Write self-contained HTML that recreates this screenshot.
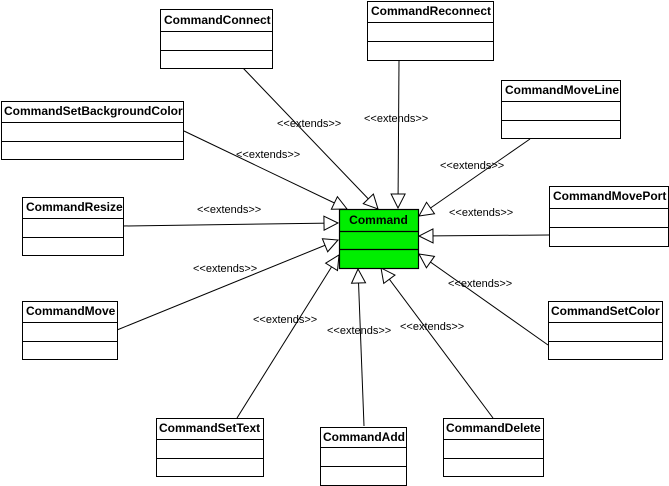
<!DOCTYPE html>
<html><head><meta charset="utf-8"><style>
body{margin:0;background:#fff;}
svg{display:block;}
text{font-family:"Liberation Sans",Arial,sans-serif;}
.t{font-size:12px;font-weight:bold;fill:#000;}
.e{font-size:11px;fill:#000;}
</style></head><body>
<svg width="669" height="486" viewBox="0 0 669 486" xmlns="http://www.w3.org/2000/svg">
<defs>
<marker id="a" viewBox="0 0 16 16" refX="15" refY="8" markerWidth="16" markerHeight="16" markerUnits="userSpaceOnUse" orient="auto">
<path d="M1,1 L15,8 L1,15 Z" fill="#fff" stroke="#000" stroke-width="1"/>
</marker>
</defs>
<g stroke="#000" stroke-width="1" fill="none" marker-end="url(#a)">
<line x1="243" y1="68" x2="378" y2="209"/>
<line x1="399" y1="60" x2="398" y2="208"/>
<line x1="184" y1="131" x2="347" y2="209"/>
<line x1="530" y1="139" x2="419" y2="216"/>
<line x1="123" y1="226" x2="338" y2="223"/>
<line x1="549" y1="235" x2="419" y2="236"/>
<line x1="548" y1="345" x2="419" y2="254"/>
<line x1="117" y1="330" x2="338" y2="240"/>
<line x1="237" y1="418" x2="339" y2="255"/>
<line x1="364" y1="426" x2="358" y2="269"/>
<line x1="493" y1="418" x2="381" y2="268"/>
</g>
<g stroke="#000" stroke-width="1.2">
<rect x="339.5" y="209.5" width="79" height="59" fill="#00ee00"/>
<line x1="339" y1="231.5" x2="418" y2="231.5"/><line x1="339" y1="249.5" x2="418" y2="249.5"/>
</g>
<text class="t" x="378.5" y="224" text-anchor="middle">Command</text>
<g stroke="#000" stroke-width="1" fill="#fff">
<rect x="160.5" y="9.5" width="112" height="59"/><line x1="160" y1="31.5" x2="272" y2="31.5"/><line x1="160" y1="50.5" x2="272" y2="50.5"/>
<rect x="367.5" y="1.5" width="126" height="59"/><line x1="367" y1="22.5" x2="493" y2="22.5"/><line x1="367" y1="41.5" x2="493" y2="41.5"/>
<rect x="1.5" y="101.5" width="182" height="58"/><line x1="1" y1="122.5" x2="183" y2="122.5"/><line x1="1" y1="141.5" x2="183" y2="141.5"/>
<rect x="501.5" y="80.5" width="119" height="58"/><line x1="501" y1="101.5" x2="620" y2="101.5"/><line x1="501" y1="120.5" x2="620" y2="120.5"/>
<rect x="22.5" y="197.5" width="101" height="58"/><line x1="22" y1="218.5" x2="123" y2="218.5"/><line x1="22" y1="237.5" x2="123" y2="237.5"/>
<rect x="549.5" y="186.5" width="119" height="60"/><line x1="549" y1="208.5" x2="668" y2="208.5"/><line x1="549" y1="227.5" x2="668" y2="227.5"/>
<rect x="22.5" y="301.5" width="95" height="58"/><line x1="22" y1="322.5" x2="117" y2="322.5"/><line x1="22" y1="341.5" x2="117" y2="341.5"/>
<rect x="548.5" y="301.5" width="114" height="58"/><line x1="548" y1="322.5" x2="662" y2="322.5"/><line x1="548" y1="341.5" x2="662" y2="341.5"/>
<rect x="156.5" y="418.5" width="107" height="58"/><line x1="156" y1="439.5" x2="263" y2="439.5"/><line x1="156" y1="458.5" x2="263" y2="458.5"/>
<rect x="320.5" y="427.5" width="86" height="58"/><line x1="320" y1="447.5" x2="406" y2="447.5"/><line x1="320" y1="466.5" x2="406" y2="466.5"/>
<rect x="443.5" y="418.5" width="100" height="58"/><line x1="443" y1="439.5" x2="543" y2="439.5"/><line x1="443" y1="458.5" x2="543" y2="458.5"/>
</g>
<text class="t" x="164" y="24">CommandConnect</text>
<text class="t" x="371" y="15">CommandReconnect</text>
<text class="t" x="4" y="115">CommandSetBackgroundColor</text>
<text class="t" x="505" y="94">CommandMoveLine</text>
<text class="t" x="26" y="211">CommandResize</text>
<text class="t" x="553" y="200">CommandMovePort</text>
<text class="t" x="26" y="315">CommandMove</text>
<text class="t" x="551" y="315">CommandSetColor</text>
<text class="t" x="159" y="432">CommandSetText</text>
<text class="t" x="323" y="441">CommandAdd</text>
<text class="t" x="446" y="432">CommandDelete</text>
<g class="e">
<text x="277" y="127">&lt;&lt;extends&gt;&gt;</text>
<text x="364" y="122">&lt;&lt;extends&gt;&gt;</text>
<text x="236" y="158">&lt;&lt;extends&gt;&gt;</text>
<text x="197" y="213">&lt;&lt;extends&gt;&gt;</text>
<text x="440" y="169">&lt;&lt;extends&gt;&gt;</text>
<text x="449" y="216">&lt;&lt;extends&gt;&gt;</text>
<text x="193" y="272">&lt;&lt;extends&gt;&gt;</text>
<text x="448" y="287">&lt;&lt;extends&gt;&gt;</text>
<text x="253" y="323">&lt;&lt;extends&gt;&gt;</text>
<text x="327" y="334">&lt;&lt;extends&gt;&gt;</text>
<text x="400" y="330">&lt;&lt;extends&gt;&gt;</text>
</g>
</svg>
</body></html>
